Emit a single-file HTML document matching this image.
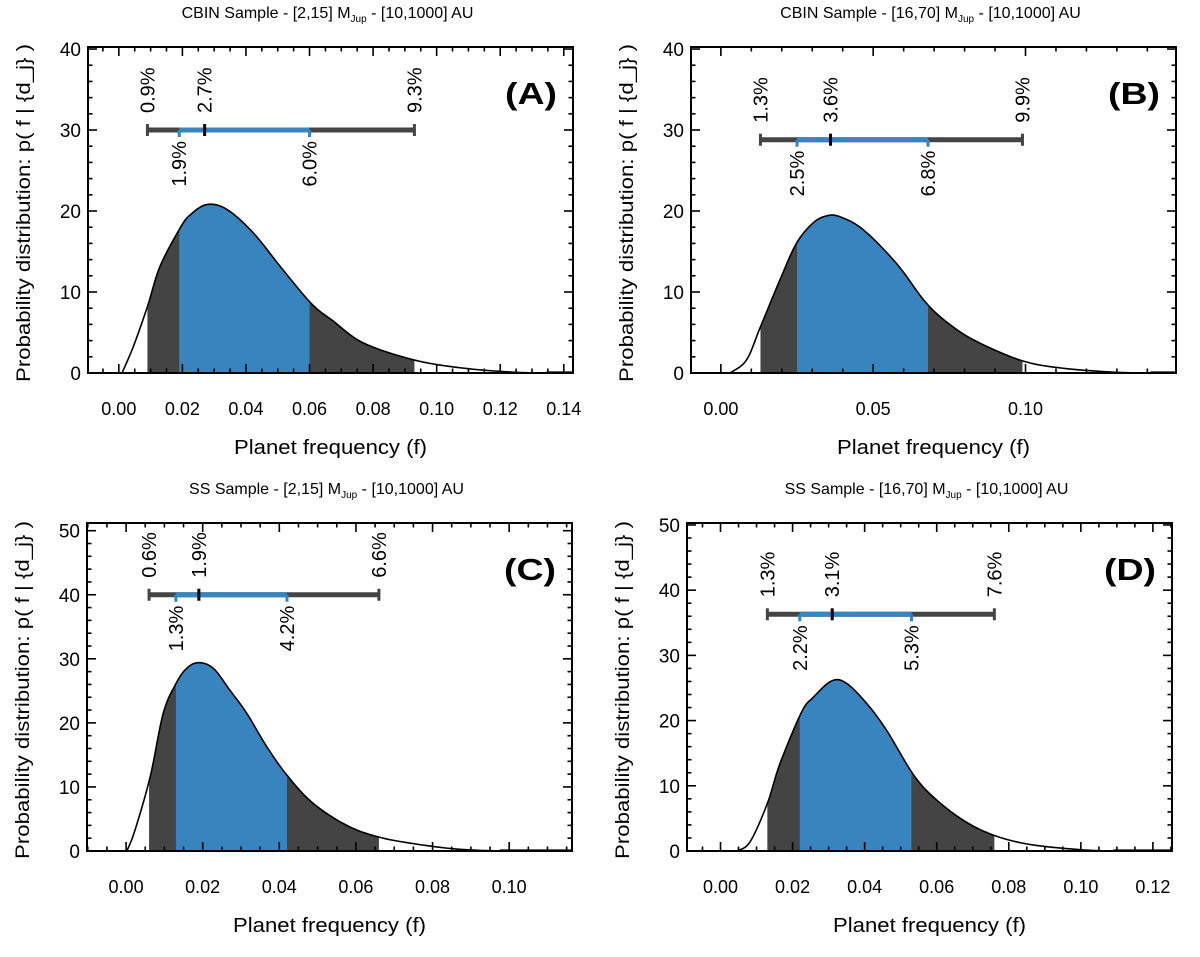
<!DOCTYPE html>
<html><head><meta charset="utf-8">
<style>
html,body{margin:0;padding:0;background:#fff;}
svg text{font-family:"Liberation Sans",Arial,sans-serif;fill:#000;}
</style></head>
<body>
<svg id="fig" width="1200" height="952" viewBox="0 0 1200 952" xmlns="http://www.w3.org/2000/svg"></svg>
<script>
// ---- Panel data ----
const fA = [0.001,0.0046,0.009,0.013,0.0193,0.0224,0.0277,0.034,0.0423,0.0507,0.0605,0.0675,0.077,0.093,0.1084,0.1241,0.1346];
const pA = [0,3.3,8.2,13.2,17.9,19.5,20.8,20.2,17.3,13.2,8.6,6.4,3.7,1.6,0.6,0.1,0];
const fB = [0.003,0.0084,0.013,0.0194,0.0248,0.0302,0.0347,0.039,0.0467,0.0577,0.0675,0.0762,0.085,0.099,0.112,0.129,0.141];
const pB = [0,1.6,5.7,11.5,16,18.5,19.4,19.3,17.7,13.5,8.6,5.7,3.7,1.5,0.6,0.1,0];
const fC = [0.0002,0.0023,0.0063,0.0097,0.013,0.0158,0.0189,0.0228,0.0271,0.0315,0.0367,0.0423,0.0489,0.0576,0.0658,0.075,0.0863,0.0976];
const pC = [0,3.2,11.6,21.5,26.1,28.5,29.4,28.5,25.1,21.5,16.3,11.6,7.4,4.0,2.2,1.15,0.3,0];
const fD = [0.0045,0.0082,0.013,0.0165,0.0225,0.0258,0.0309,0.035,0.0406,0.0461,0.0533,0.059,0.0674,0.0759,0.0859,0.0998,0.109];
const pD = [0,1.4,7.3,13.4,21.3,23.6,26.1,25.7,22.6,18.5,11.9,8.3,4.7,2.4,1.0,0.2,0];
// credible interval percentiles (percent): outer-low, inner-low, median, inner-high, outer-high
const ciA = [0.9,1.9,2.7,6.0,9.3];
const ciB = [1.3,2.5,3.6,6.8,9.9];
const ciC = [0.6,1.3,1.9,4.2,6.6];
const ciD = [1.3,2.2,3.1,5.3,7.6];
const barYA = 30, barYB = 28.8, barYC = 40, barYD = 36.3;
const xTicksA = ["0.00","0.02","0.04","0.06","0.08","0.10","0.12","0.14"];
const xTicksB = ["0.00","0.05","0.10"];
const xTicksC = ["0.00","0.02","0.04","0.06","0.08","0.10"];
const xTicksD = ["0.00","0.02","0.04","0.06","0.08","0.10","0.12"];
const yTicksAB = ["0","10","20","30","40"];
const yTicksCD = ["0","10","20","30","40","50"];

const NS="http://www.w3.org/2000/svg";
const svg=document.getElementById('fig');
function mk(tag,attrs,parent){const e=document.createElementNS(NS,tag);for(const k in attrs)e.setAttribute(k,attrs[k]);(parent||svg).appendChild(e);return e;}

const panels=[
 {id:'a',title:['CBIN Sample - [2,15] M','Jup',' - [10,1000] AU'],lab:'(A)',f:fA,p:pA,ci:ciA,barY:barYA,xt:xTicksA,xstep:0.02,xminor:4,yt:yTicksAB,
  box:[88,47,573,373],xd:[-0.0097,0.1429],yd:[0,40.25]},
 {id:'b',title:['CBIN Sample - [16,70] M','Jup',' - [10,1000] AU'],lab:'(B)',f:fB,p:pB,ci:ciB,barY:barYB,xt:xTicksB,xstep:0.05,xminor:5,yt:yTicksAB,
  box:[691,47,1176,373],xd:[-0.0098,0.1494],yd:[0,40.25]},
 {id:'c',title:['SS Sample - [2,15] M','Jup',' - [10,1000] AU'],lab:'(C)',f:fC,p:pC,ci:ciC,barY:barYC,xt:xTicksC,xstep:0.02,xminor:4,yt:yTicksCD,
  box:[87,523,572,851],xd:[-0.0102,0.1164],yd:[0,51.2]},
 {id:'d',title:['SS Sample - [16,70] M','Jup',' - [10,1000] AU'],lab:'(D)',f:fD,p:pD,ci:ciD,barY:barYD,xt:xTicksD,xstep:0.02,xminor:4,yt:yTicksCD,
  box:[687,523,1172,851],xd:[-0.0093,0.1253],yd:[0,50.3]}
];

// Catmull-Rom densification for a smooth drawn curve
function smooth(fs,ps){
  const out=[];
  const n=fs.length;
  for(let i=0;i<n-1;i++){
    const i0=Math.max(0,i-1),i3=Math.min(n-1,i+2);
    for(let s=0;s<10;s++){
      const t=s/10,t2=t*t,t3=t2*t;
      const cr=(a,b,c,d)=>0.5*((2*b)+(-a+c)*t+(2*a-5*b+4*c-d)*t2+(-a+3*b-3*c+d)*t3);
      out.push([cr(fs[i0],fs[i],fs[i+1],fs[i3]),Math.max(0,cr(ps[i0],ps[i],ps[i+1],ps[i3]))]);
    }
  }
  out.push([fs[n-1],ps[n-1]]);
  return out;
}
function interpS(S,x){
  if(x<=S[0][0]||x>=S[S.length-1][0])return 0;
  for(let i=0;i<S.length-1;i++){if(x>=S[i][0]&&x<=S[i+1][0]){const d=S[i+1][0]-S[i][0];const t=d?(x-S[i][0])/d:0;return S[i][1]+t*(S[i+1][1]-S[i][1]);}}
  return 0;
}

panels.forEach(P=>{
  const [x0,y0,x1,y1]=P.box;
  const sx=v=>x0+(v-P.xd[0])/(P.xd[1]-P.xd[0])*(x1-x0);
  const sy=v=>y1-(v-P.yd[0])/(P.yd[1]-P.yd[0])*(y1-y0);
  const g=mk('g',{});
  
  
  const S=smooth(P.f,P.p);

  function region(a,b,color,name){
    let pts=[[sx(a),sy(0)],[sx(a),sy(interpS(S,a))]];
    S.forEach(q=>{if(q[0]>a&&q[0]<b)pts.push([sx(q[0]),sy(q[1])]);});
    pts.push([sx(b),sy(interpS(S,b))],[sx(b),sy(0)]);
    const e=mk('polygon',{points:pts.map(q=>q.join(',')).join(' '),fill:color},g);
    
    
  }
  const c=P.ci.map(v=>v/100);
  region(c[0],c[4],'#444444','outer-interval-fill');
  region(c[1],c[3],'#3784bf','inner-interval-fill');
  const line=mk('polyline',{points:S.map(q=>sx(q[0])+','+sy(q[1])).join(' '),fill:'none',stroke:'#000','stroke-width':1.6},g);
  
  
  mk('line',{x1:sx(P.f[P.f.length-1]),y1:y1-1,x2:x1,y2:y1-1,stroke:'#000','stroke-width':1.2},g);

  const box=mk('rect',{x:x0,y:y0,width:x1-x0,height:y1-y0,fill:'none',stroke:'#000','stroke-width':2},g);
  
  

  const ms=P.xstep/P.xminor;
  const kStart=Math.ceil(P.xd[0]/ms-1e-9), kEnd=Math.floor(P.xd[1]/ms+1e-9);
  for(let k=kStart;k<=kEnd;k++){
    const X=sx(k*ms); const major=(k%P.xminor===0); const L=major?9:4.5;
    mk('line',{x1:X,y1:y1,x2:X,y2:y1-L,stroke:'#000','stroke-width':1.6},g);
    mk('line',{x1:X,y1:y0,x2:X,y2:y0+L,stroke:'#000','stroke-width':1.6},g);
  }
  P.xt.forEach((t,i)=>{
    const e=mk('text',{x:sx(i*P.xstep),y:y1+42,'text-anchor':'middle','font-size':18},g);
    e.textContent=t;
    
    
  });
  for(let v=0;v<=P.yd[1]+1e-9;v+=2){
    const Y=sy(v); const major=(Math.round(v)%10===0); const L=major?9:4.5;
    mk('line',{x1:x0,y1:Y,x2:x0+L,y2:Y,stroke:'#000','stroke-width':1.6},g);
    mk('line',{x1:x1,y1:Y,x2:x1-L,y2:Y,stroke:'#000','stroke-width':1.6},g);
  }
  P.yt.forEach((t,i)=>{
    const e=mk('text',{x:x0-7,y:sy(i*10)+7,'text-anchor':'end','font-size':19},g);
    e.textContent=t;
    
    
  });
  const xt=mk('text',{x:(x0+x1)/2,y:y1+81,'text-anchor':'middle','font-size':20,textLength:193,lengthAdjust:'spacingAndGlyphs'},g);
  xt.textContent='Planet frequency (f)';
  
  
  const yc=(y0+y1)/2+3;
  const yx=x0-58;
  const yt=mk('text',{x:yx,y:yc,'text-anchor':'middle','font-size':19,textLength:338,lengthAdjust:'spacingAndGlyphs',transform:`rotate(-90 ${yx} ${yc})`},g);
  yt.textContent='Probability distribution:  p( f | {d_j} )';
  
  
  const tt=mk('text',{x:(x0+x1)/2-3,y:y0-29,'text-anchor':'middle','font-size':16},g);
  const s1=mk('tspan',{},tt); s1.textContent=P.title[0];
  const s2=mk('tspan',{'font-size':10,dy:4},tt); s2.textContent=P.title[1];
  const s3=mk('tspan',{dy:-4},tt); s3.textContent=P.title[2];
  
  
  const pl=mk('text',{x:x1-16,y:y0+57,'text-anchor':'end','font-size':31,'font-weight':'bold',textLength:52,lengthAdjust:'spacingAndGlyphs'},g);
  pl.textContent=P.lab;
  
  

  const by=sy(P.barY);
  const ob=mk('line',{x1:sx(c[0]),y1:by,x2:sx(c[4]),y2:by,stroke:'#444','stroke-width':5},g);
  
  
  [c[0],c[4]].forEach(v=>mk('line',{x1:sx(v),y1:by-6,x2:sx(v),y2:by+6,stroke:'#444','stroke-width':3},g));
  const ib=mk('line',{x1:sx(c[1]),y1:by,x2:sx(c[3]),y2:by,stroke:'#3784bf','stroke-width':5},g);
  
  
  [c[1],c[3]].forEach(v=>mk('line',{x1:sx(v),y1:by,x2:sx(v),y2:by+7,stroke:'#3784bf','stroke-width':3},g));
  const md=mk('line',{x1:sx(c[2]),y1:by-6,x2:sx(c[2]),y2:by+6,stroke:'#000','stroke-width':3},g);
  
  
  P.ci.forEach((v,i)=>{
    const X=sx(v/100)+7; let Y,anchor;
    if(i===1||i===3){Y=by+11;anchor='end';}else{Y=by-17;anchor='start';}
    const e=mk('text',{x:X,y:Y,'text-anchor':anchor,'font-size':20,transform:`rotate(-90 ${X} ${Y})`},g);
    e.textContent=v.toFixed(1)+'%';
    
    
  });
});
</script>
</body></html>
